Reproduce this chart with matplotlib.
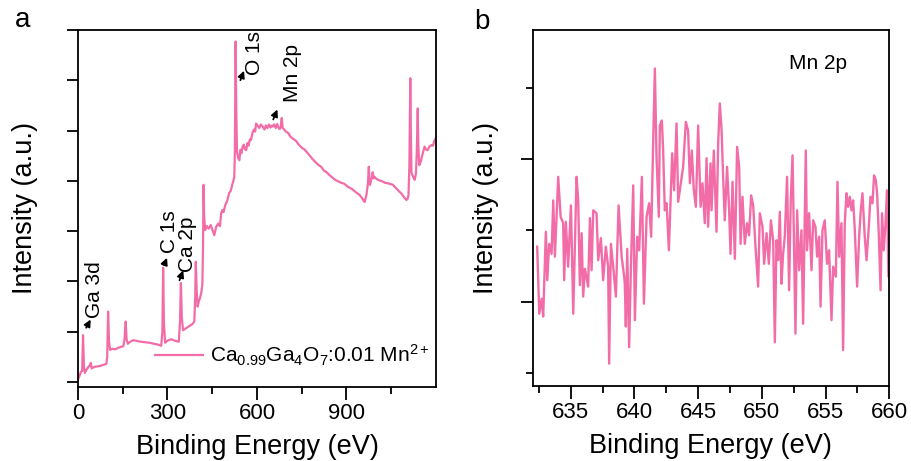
import matplotlib
matplotlib.use('Agg')
import matplotlib.pyplot as plt
from matplotlib.ticker import MultipleLocator, FixedLocator, NullFormatter

plt.rcParams['font.family'] = ['Liberation Sans', 'DejaVu Sans']
plt.rcParams['mathtext.fontset'] = 'custom'
plt.rcParams['mathtext.rm'] = 'Liberation Sans'
plt.rcParams['mathtext.it'] = 'Liberation Sans:italic'
plt.rcParams['mathtext.default'] = 'regular'

pink = '#f26ca7'

# survey spectrum (panel a)
survey_energy = [
    0, 5, 10, 14, 17, 20, 23, 28, 35, 40, 43, 46, 55, 65, 75, 85, 95, 98, 101, 104,
    108, 115, 125, 135, 145, 152, 156, 160, 163, 167, 175, 185, 195, 210, 225, 240, 255, 270, 279, 283,
    285.5, 288, 292, 300, 312, 325, 338, 342, 345, 348, 352, 360, 373, 385, 390, 393, 395, 398, 401, 405,
    410, 414, 417, 419, 421, 423, 426, 432, 438, 445, 452, 457, 463, 470, 476, 480, 484, 488, 494, 500,
    507, 512, 517, 521, 524, 526, 528.5, 530.5, 533, 537, 541, 545, 548, 552, 556, 560, 564, 568, 572, 576,
    580, 585, 590, 594, 597, 602, 608, 613, 619, 625, 630, 635, 640, 645, 650, 653, 658, 663, 668, 672,
    676, 680, 683, 686, 690, 697, 705, 712, 720, 730, 740, 750, 760, 770, 776, 785, 795, 805, 815, 825,
    832, 842, 852, 862, 872, 883, 893, 905, 918, 930, 944, 952, 958, 961, 964, 967, 972, 975, 977, 979,
    983, 986, 988, 991, 994, 1000, 1010, 1020, 1030, 1040, 1056, 1065, 1075, 1085, 1095, 1101, 1105, 1108, 1111, 1114,
    1116, 1118, 1122, 1126, 1129, 1133, 1136, 1139, 1141, 1144, 1150, 1156, 1162, 1167, 1172, 1178, 1185, 1190, 1195, 1199,
]
survey_intensity = [
    0.05, 0.12, 0.20, 0.22, 0.93, 0.30, 0.18, 0.24, 0.30, 0.33, 0.38, 0.27, 0.30, 0.31, 0.32, 0.34, 0.36, 0.50, 1.40, 0.80,
    0.64, 0.66, 0.65, 0.68, 0.70, 0.71, 0.85, 1.20, 0.85, 0.76, 0.80, 0.83, 0.82, 0.80, 0.79, 0.78, 0.76, 0.74, 0.72, 1.00,
    2.27, 1.20, 0.78, 0.82, 0.85, 0.82, 0.80, 1.20, 1.97, 1.30, 1.03, 1.06, 1.11, 1.16, 1.20, 1.70, 2.39, 1.80, 1.50, 1.60,
    1.69, 1.80, 1.95, 2.60, 3.92, 3.30, 3.02, 3.10, 3.05, 3.12, 3.00, 2.92, 3.08, 3.15, 3.10, 3.35, 3.42, 3.38, 3.52, 3.60,
    3.76, 3.80, 3.92, 4.00, 4.08, 4.60, 6.77, 5.50, 4.60, 4.45, 4.41, 4.62, 4.55, 4.68, 4.72, 4.63, 4.61, 4.75, 4.70, 4.82,
    4.81, 4.95, 5.02, 4.98, 5.14, 5.10, 5.05, 5.12, 5.08, 5.02, 5.10, 5.05, 5.12, 5.06, 5.10, 5.08, 5.12, 5.05, 5.13, 5.06,
    5.03, 5.08, 5.25, 5.05, 5.03, 4.98, 4.95, 4.88, 4.84, 4.80, 4.72, 4.66, 4.62, 4.55, 4.51, 4.44, 4.38, 4.32, 4.28, 4.20,
    4.18, 4.12, 4.07, 4.02, 3.99, 3.96, 3.94, 3.88, 3.84, 3.78, 3.72, 3.66, 3.60, 3.58, 3.65, 3.72, 3.95, 4.28, 4.00, 3.92,
    4.02, 4.10, 4.17, 4.05, 4.08, 4.04, 4.01, 3.99, 3.96, 3.95, 3.92, 3.86, 3.80, 3.74, 3.66, 3.62, 3.64, 3.72, 4.30, 6.04,
    5.00, 4.16, 4.10, 4.05, 4.02, 4.15, 4.60, 5.44, 4.70, 4.31, 4.40, 4.55, 4.68, 4.62, 4.61, 4.68, 4.71, 4.70, 4.80, 4.84,
]

# Mn 2p high resolution scan (panel b)
mn_energy = [
    632.36, 632.52, 632.71, 632.83, 633.04, 633.15, 633.30, 633.49, 633.62, 633.75,
    634.01, 634.20, 634.40, 634.48, 634.61, 634.79, 635.01, 635.19, 635.45, 635.58,
    635.71, 635.85, 635.97, 636.11, 636.36, 636.50, 636.63, 636.76, 637.02, 637.15,
    637.36, 637.54, 637.75, 637.93, 638.01, 638.15, 638.33, 638.54, 638.75, 638.99,
    639.19, 639.24, 639.32, 639.43, 639.58, 639.72, 639.90, 640.03, 640.21, 640.37,
    640.58, 640.74, 640.95, 641.15, 641.31, 641.47, 641.60, 641.73, 641.91, 641.99,
    642.15, 642.25, 642.38, 642.52, 642.70, 642.83, 642.96, 643.11, 643.30, 643.43,
    643.64, 643.82, 644.03, 644.21, 644.35, 644.50, 644.66, 644.82, 645.00, 645.19,
    645.34, 645.52, 645.66, 645.78, 645.97, 646.05, 646.23, 646.44, 646.57, 646.70,
    646.84, 646.96, 647.09, 647.27, 647.43, 647.54, 647.70, 647.88, 648.06, 648.22,
    648.33, 648.48, 648.66, 648.84, 649.00, 649.16, 649.32, 649.50, 649.71, 649.84,
    650.05, 650.18, 650.37, 650.55, 650.71, 650.89, 651.02, 651.15, 651.28, 651.41,
    651.54, 651.67, 651.80, 651.98, 652.14, 652.27, 652.41, 652.53, 652.64, 652.77,
    652.93, 653.11, 653.24, 653.35, 653.45, 653.55, 653.71, 653.90, 654.03, 654.21,
    654.34, 654.50, 654.61, 654.76, 654.94, 655.12, 655.28, 655.47, 655.60, 655.81,
    655.94, 656.07, 656.25, 656.38, 656.51, 656.65, 656.77, 656.91, 657.04, 657.17,
    657.30, 657.48, 657.64, 657.77, 657.90, 658.08, 658.22, 658.40, 658.53, 658.69,
    658.81, 658.95, 659.05, 659.18, 659.32, 659.44, 659.57, 659.71, 659.83, 659.94, 660.0,
]
mn_intensity = [
    1.77, 0.83, 1.04, 0.79, 1.98, 1.30, 1.81, 1.67, 2.42, 1.63,
    2.75, 2.19, 2.10, 1.30, 2.12, 1.49, 2.35, 0.83, 2.75, 2.42,
    1.23, 1.96, 1.07, 1.46, 1.21, 2.17, 1.44, 2.28, 2.24, 1.58,
    1.89, 1.30, 1.77, 1.49, 0.13, 1.81, 1.49, 1.07, 2.35, 1.63,
    1.35, 1.25, 0.65, 1.74, 0.36, 1.49, 2.63, 0.74, 1.91, 1.72,
    2.75, 0.97, 2.19, 2.38, 1.91, 3.26, 4.27, 3.03, 2.19, 3.47,
    3.54, 3.12, 2.28, 2.38, 1.72, 2.38, 3.08, 2.56, 3.50, 2.40,
    2.66, 2.89, 3.52, 3.40, 2.66, 3.12, 2.56, 2.33, 3.47, 2.33,
    2.66, 2.10, 3.01, 2.05, 2.94, 2.28, 3.12, 1.98, 3.22, 3.78,
    3.40, 2.75, 2.14, 2.89, 2.28, 1.67, 2.68, 1.60, 3.17, 2.89,
    1.81, 2.47, 1.81, 2.10, 1.93, 2.49, 2.35, 1.77, 1.21, 2.24,
    2.05, 1.53, 1.96, 1.53, 2.14, 1.86, 0.43, 1.86, 1.58, 2.26,
    1.25, 1.67, 1.91, 2.75, 1.16, 2.42, 3.05, 1.72, 0.55, 2.28,
    1.44, 2.00, 0.69, 1.96, 3.12, 1.72, 2.24, 1.44, 2.14, 2.05,
    1.63, 1.91, 0.93, 2.00, 2.14, 1.53, 1.72, 0.74, 1.49, 1.35,
    2.68, 1.63, 2.10, 0.32, 2.10, 2.52, 2.33, 2.47, 2.28, 2.42,
    2.00, 1.21, 1.91, 2.28, 2.52, 1.91, 1.58, 2.05, 2.47, 2.38,
    2.77, 2.70, 2.52, 1.96, 1.16, 2.24, 1.72, 2.10, 2.56, 1.35, 1.35,
]

# peak labels: (text, text x, text y, arrow tail, arrow head)
peak_labels = [
    ('Ga 3d', 54, 1.27, (23, 1.03), (47, 1.29)),
    ('C 1s', 306, 2.56, (285, 2.27), (302, 2.52)),
    ('Ca 2p', 366, 2.19, (337, 1.97), (356, 2.27)),
    ('O 1s', 591, 6.10, (541, 5.95), (560, 6.24)),
    ('Mn 2p', 719, 5.57, (651, 5.17), (672, 5.47)),
]

fig = plt.figure(figsize=(9.12, 4.61), dpi=100)
ax1 = fig.add_axes([0.0855, 0.1616, 0.3925, 0.7734])
ax2 = fig.add_axes([0.584, 0.1633, 0.391, 0.7717])

# ---- panel a
ax1.plot(survey_energy, survey_intensity, color=pink, lw=1.6,
         label=r'Ca$_{0.99}$Ga$_4$O$_7$:0.01 Mn$^{2+}$')
ax1.set_xlim(0, 1200)
ax1.set_ylim(-0.09, 7.0)
ax1.xaxis.set_major_locator(FixedLocator([0, 300, 600, 900]))
ax1.xaxis.set_minor_locator(FixedLocator([150, 450, 750, 1050]))
ax1.yaxis.set_major_locator(MultipleLocator(1))
ax1.yaxis.set_major_formatter(NullFormatter())
for txt, tx, ty, tail, head in peak_labels:
    ax1.annotate('', xy=head, xytext=tail,
                 arrowprops=dict(arrowstyle='-|>,head_length=0.4,head_width=0.2', color='black', lw=1.3))
    ax1.text(tx, ty, txt, rotation=90, ha='center', va='bottom', fontsize=15)
ax1.legend(loc='center left', bbox_to_anchor=(0.215, 0.088), frameon=False,
           fontsize=15, handlelength=2.3, handletextpad=0.35, borderpad=0, borderaxespad=0)
ax1.set_xlabel('Binding Energy (eV)', fontsize=19.5, labelpad=7)
ax1.set_ylabel('Intensity (a.u.)', fontsize=19.5, labelpad=18)

# ---- panel b
ax2.plot(mn_energy, mn_intensity, color=pink, lw=1.7)
ax2.set_xlim(632, 660)
ax2.set_ylim(-0.18, 4.81)
ax2.xaxis.set_major_locator(MultipleLocator(5))
ax2.xaxis.set_minor_locator(MultipleLocator(2.5))
ax2.yaxis.set_major_locator(FixedLocator([1, 3]))
ax2.yaxis.set_minor_locator(FixedLocator([0, 2, 4]))
ax2.yaxis.set_major_formatter(NullFormatter())
ax2.text(654.4, 4.34, 'Mn 2p', ha='center', va='center', fontsize=15)
ax2.set_xlabel('Binding Energy (eV)', fontsize=19.5, labelpad=7)
ax2.set_ylabel('Intensity (a.u.)', fontsize=19.5, labelpad=12)

for ax in (ax1, ax2):
    for sp in ax.spines.values():
        sp.set_linewidth(1.3)
    ax.tick_params(which='major', direction='out', length=9, width=1.3, labelsize=16, pad=3)
    ax.tick_params(which='minor', direction='out', length=5, width=1.3)
ax1.tick_params(axis='y', which='major', length=8)

fig.text(23 / 912, 1 - 20 / 461, 'a', ha='center', va='center', fontsize=20)
fig.text(482 / 912, 1 - 22 / 461, 'b', ha='center', va='center', fontsize=20)

fig.savefig('out.png', dpi=100)
